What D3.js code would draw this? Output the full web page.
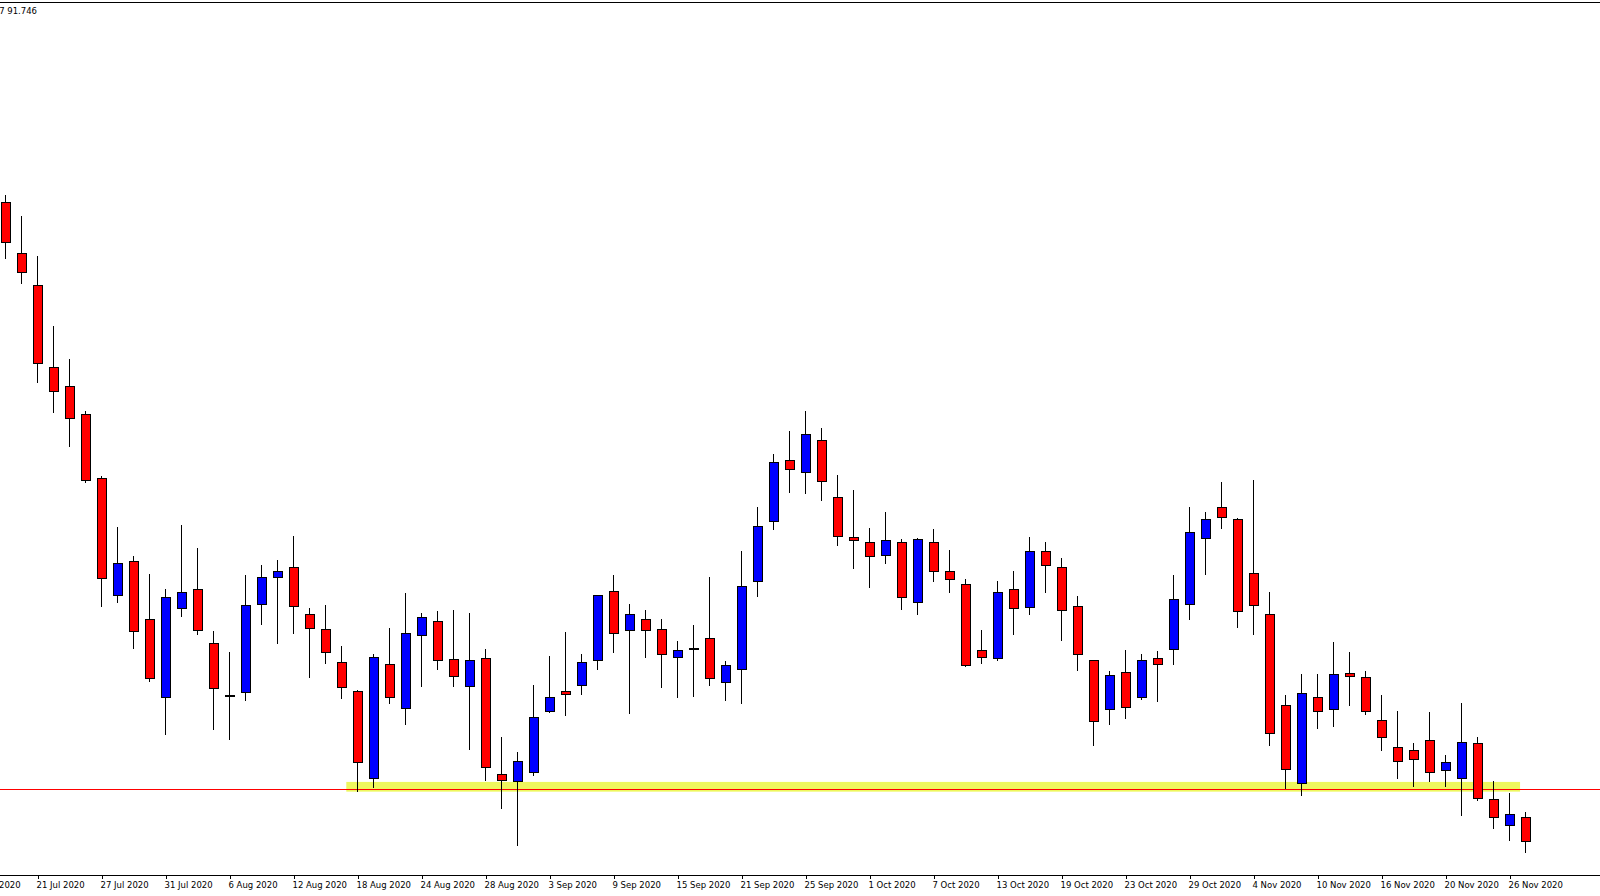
<!DOCTYPE html>
<html>
<head>
<meta charset="utf-8">
<script src="https://cdn.jsdelivr.net/npm/d3@7"></script>
<style>
  html, body { margin: 0; padding: 0; background: #fff; overflow: hidden; }
  #chart { width: 1600px; height: 896px; }
  text { font-family: "DejaVu Sans", sans-serif; }
</style>
</head>
<body>
<div id="chart"></div>
<script>
// Daily candles, 17 Jul 2020 -> 27 Nov 2020 (weekdays only)
const opens = [
  96.153, 95.801, 95.587, 95.015, 94.884, 94.691, 94.256, 93.443, 93.677, 93.277,
  92.739, 93.353, 93.484, 93.112, 92.753, 92.774, 93.387, 93.567, 93.636, 93.318,
  93.208, 92.987, 92.787, 92.187, 92.967, 92.663, 93.167, 93.263, 93.001, 92.815,
  93.008, 92.208, 92.160, 92.222, 92.643, 92.787, 92.822, 92.994, 93.470, 93.201,
  93.277, 93.208, 93.015, 93.077, 93.146, 92.849, 92.932, 93.539, 93.953, 94.374,
  94.291, 94.512, 94.125, 93.843, 93.808, 93.725, 93.808, 93.394, 93.808, 93.608,
  93.525, 93.063, 93.008, 93.484, 93.360, 93.746, 93.636, 93.367, 92.994, 92.656,
  92.912, 92.739, 93.008, 93.070, 93.387, 93.836, 94.056, 93.967, 93.594, 93.318,
  92.684, 92.146, 92.739, 92.656, 92.905, 92.877, 92.587, 92.394, 92.374, 92.443,
  92.236, 92.187, 92.422, 92.036, 91.856, 91.918
];
const highs = [
  96.208, 96.063, 95.787, 95.305, 95.077, 94.718, 94.270, 93.918, 93.718, 93.594,
  93.491, 93.932, 93.774, 93.201, 93.056, 93.587, 93.656, 93.691, 93.856, 93.360,
  93.381, 93.098, 92.794, 93.043, 93.222, 93.463, 93.325, 93.339, 93.346, 93.325,
  93.077, 92.470, 92.367, 92.829, 93.029, 93.194, 93.043, 93.449, 93.587, 93.387,
  93.346, 93.284, 93.132, 93.243, 93.574, 92.994, 93.753, 94.056, 94.422, 94.580,
  94.718, 94.601, 94.277, 94.174, 93.912, 94.022, 93.836, 93.843, 93.905, 93.760,
  93.560, 93.208, 93.546, 93.615, 93.849, 93.815, 93.705, 93.443, 93.001, 92.925,
  93.070, 93.043, 93.063, 93.587, 94.056, 94.022, 94.229, 93.980, 94.243, 93.470,
  92.760, 92.905, 92.905, 93.125, 93.056, 92.925, 92.760, 92.649, 92.429, 92.643,
  92.346, 92.705, 92.470, 92.167, 92.084, 91.953
];
const lows = [
  95.767, 95.594, 94.912, 94.705, 94.470, 94.222, 93.367, 93.394, 93.077, 92.849,
  92.484, 93.298, 93.174, 92.518, 92.449, 92.718, 93.243, 93.112, 93.181, 92.877,
  92.974, 92.732, 92.091, 92.118, 92.698, 92.553, 92.815, 92.932, 92.815, 92.380,
  92.167, 91.974, 91.718, 92.201, 92.636, 92.615, 92.760, 92.932, 93.049, 92.629,
  93.015, 92.808, 92.739, 92.746, 92.822, 92.718, 92.698, 93.436, 93.898, 94.153,
  94.146, 94.098, 93.787, 93.629, 93.498, 93.663, 93.346, 93.312, 93.539, 93.463,
  92.953, 92.974, 92.994, 93.174, 93.312, 93.463, 93.132, 92.925, 92.408, 92.553,
  92.594, 92.725, 92.712, 92.967, 93.277, 93.587, 93.905, 93.222, 93.174, 92.408,
  92.112, 92.063, 92.525, 92.539, 92.684, 92.622, 92.374, 92.181, 92.125, 92.160,
  92.125, 91.925, 92.029, 91.836, 91.753, 91.667
];
const closes = [
  95.877, 95.670, 95.049, 94.856, 94.663, 94.236, 93.560, 93.663, 93.194, 92.870,
  93.429, 93.463, 93.201, 92.801, 92.753, 93.374, 93.567, 93.608, 93.367, 93.215,
  93.056, 92.808, 92.291, 93.015, 92.739, 93.187, 93.291, 92.994, 92.884, 92.994,
  92.256, 92.167, 92.298, 92.601, 92.739, 92.760, 92.987, 93.443, 93.187, 93.312,
  93.201, 93.036, 93.063, 93.077, 92.870, 92.960, 93.505, 93.925, 94.360, 94.318,
  94.553, 94.229, 93.856, 93.822, 93.718, 93.822, 93.429, 93.829, 93.608, 93.553,
  92.960, 93.015, 93.463, 93.353, 93.746, 93.656, 93.339, 93.036, 92.580, 92.891,
  92.670, 92.994, 92.967, 93.415, 93.877, 93.967, 93.987, 93.332, 93.374, 92.491,
  92.243, 92.767, 92.649, 92.898, 92.884, 92.643, 92.463, 92.298, 92.312, 92.222,
  92.291, 92.429, 92.049, 91.918, 91.932, 91.746
];

// time axis labels, one every 4 bars (first one sits 2 bars before the first candle)
const tickLabels = [
  "15 Jul 2020", "21 Jul 2020", "27 Jul 2020", "31 Jul 2020", "6 Aug 2020",
  "12 Aug 2020", "18 Aug 2020", "24 Aug 2020", "28 Aug 2020", "3 Sep 2020",
  "9 Sep 2020", "15 Sep 2020", "21 Sep 2020", "25 Sep 2020", "1 Oct 2020",
  "7 Oct 2020", "13 Oct 2020", "19 Oct 2020", "23 Oct 2020", "29 Oct 2020",
  "4 Nov 2020", "10 Nov 2020", "16 Nov 2020", "20 Nov 2020", "26 Nov 2020"
];
const firstTickBar = -2;
const barsPerTick = 4;

// support drawn on the chart
const supportLevel = 92.109;
const zoneTop = 92.160;
const zoneBottom = 92.093;
const zoneFromBar = 21.3;
const zoneToBar = 94.66;

// visible price range of the pane
const priceBottom = 91.518;
const priceTop = 97.539;

const W = 1600, H = 896;
const paneTop = 2, paneBottom = 875;

const svg = d3.select("#chart").append("svg")
    .attr("width", W)
    .attr("height", H);

const x = d3.scaleLinear().domain([0, 95]).range([5.5, 1525.5]);
const y = d3.scaleLinear().domain([priceBottom, priceTop]).range([paneBottom, paneTop]);

// top border
svg.append("line")
    .attr("x1", 0).attr("x2", W)
    .attr("y1", paneTop + 0.5).attr("y2", paneTop + 0.5)
    .attr("stroke", "#000")
    .attr("stroke-width", 1);

// highlighted zone
svg.append("rect")
    .attr("x", x(zoneFromBar))
    .attr("y", y(zoneTop))
    .attr("width", x(zoneToBar) - x(zoneFromBar))
    .attr("height", y(zoneBottom) - y(zoneTop))
    .attr("fill", "#eef75e");

// horizontal level
svg.append("line")
    .attr("x1", 0).attr("x2", W)
    .attr("y1", Math.round(y(supportLevel)) + 0.5)
    .attr("y2", Math.round(y(supportLevel)) + 0.5)
    .attr("stroke", "#ff0000")
    .attr("stroke-width", 1);

const candles = opens.map((o, i) => ({ i, o, h: highs[i], l: lows[i], c: closes[i] }));

const g = svg.append("g").attr("shape-rendering", "crispEdges");

// wicks
g.selectAll(".wick")
    .data(candles)
    .enter().append("line")
    .attr("class", "wick")
    .attr("x1", d => x(d.i)).attr("x2", d => x(d.i))
    .attr("y1", d => y(d.h)).attr("y2", d => y(d.l))
    .attr("stroke", "#000")
    .attr("stroke-width", 1);

// bodies
g.selectAll(".body")
    .data(candles)
    .enter().append("rect")
    .attr("class", "body")
    .attr("x", d => x(d.i) - 4)
    .attr("width", 9)
    .attr("y", d => y(Math.max(d.o, d.c)))
    .attr("height", d => Math.max(1, Math.abs(y(d.o) - y(d.c))))
    .attr("fill", d => d.c > d.o ? "#0000ff" : (d.c < d.o ? "#ff0000" : "#000"))
    .attr("stroke", "#000")
    .attr("stroke-width", 1);

// time axis
const tickBars = tickLabels.map((t, k) => firstTickBar + k * barsPerTick);

svg.append("line")
    .attr("x1", 0).attr("x2", W)
    .attr("y1", paneBottom + 0.5).attr("y2", paneBottom + 0.5)
    .attr("stroke", "#000")
    .attr("stroke-width", 1);

const axis = d3.axisBottom(x)
    .tickValues(tickBars)
    .tickSize(4)
    .tickFormat((d, k) => tickLabels[k]);

const ax = svg.append("g")
    .attr("transform", `translate(0, ${paneBottom})`)
    .call(axis);

ax.select(".domain").remove();
ax.selectAll(".tick line").attr("stroke", "#000").attr("shape-rendering", "crispEdges");
ax.selectAll(".tick text")
    .attr("text-anchor", "start")
    .attr("x", -1.5)
    .attr("y", 13)
    .attr("dy", 0)
    .style("font-family", "'DejaVu Sans', sans-serif")
    .style("font-size", "8.5px")
    .attr("fill", "#000");

// top-left price info (mostly scrolled out of view)
const last = candles[candles.length - 1];
svg.append("text")
    .attr("x", 37)
    .attr("y", 14)
    .attr("text-anchor", "end")
    .style("font-size", "8.5px")
    .attr("fill", "#000")
    .text(`USDX,Daily  ${last.o.toFixed(3)} ${last.h.toFixed(3)} ${last.l.toFixed(3)} ${last.c.toFixed(3)}`);
</script>
</body>
</html>
